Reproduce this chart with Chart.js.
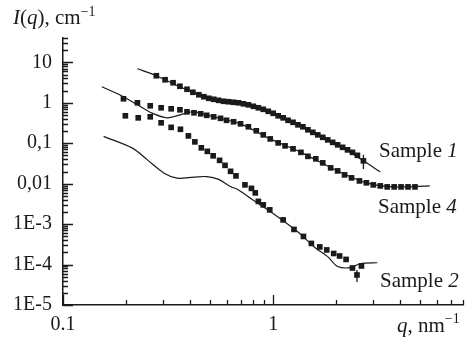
<!DOCTYPE html>
<html>
<head>
<meta charset="utf-8">
<script src="https://cdn.jsdelivr.net/npm/chart.js@4.4.1/dist/chart.umd.min.js"></script>
<style>
  body { margin: 0; background: #fff; }
  #wrap { width: 467px; height: 337px; }
</style>
</head>
<body>
<div id="wrap"><canvas id="sansChart" width="467" height="337"></canvas></div>
<script>
// tick labels
const xTickValues = [0.1, 1];
const xTickLabels = ['0.1', '1'];
const yTickValues = [1e-5, 1e-4, 1e-3, 0.01, 0.1, 1, 10];
const yTickLabels = ['1E-5', '1E-4', '1E-3', '0,01', '0,1', '1', '10'];

// Sample 1 - measured points and fit
const s1Q = [0.278, 0.306, 0.334, 0.360, 0.389, 0.415, 0.443, 0.468, 0.494, 0.521, 0.550, 0.581, 0.613, 0.648, 0.684, 0.722, 0.762, 0.805, 0.850, 0.897, 0.947, 1.0, 1.056, 1.115, 1.177, 1.243, 1.312, 1.385, 1.463, 1.544, 1.630, 1.721, 1.817, 1.919, 2.026, 2.139, 2.258, 2.384, 2.517, 2.687];
const s1I = [4.66, 3.71, 3.13, 2.56, 2.16, 1.82, 1.58, 1.41, 1.29, 1.22, 1.15, 1.09, 1.06, 1.03, 1.0, 0.944, 0.892, 0.819, 0.752, 0.690, 0.616, 0.550, 0.477, 0.425, 0.369, 0.329, 0.285, 0.255, 0.215, 0.186, 0.161, 0.140, 0.121, 0.105, 0.0913, 0.0792, 0.0686, 0.0595, 0.0502, 0.0367];
const s1LineQ = [0.226, 0.278, 0.360, 0.443, 0.613, 0.805, 1.056, 1.463, 2.026, 2.687, 3.23];
const s1LineI = [6.94, 4.66, 2.49, 1.58, 1.06, 0.819, 0.477, 0.215, 0.0913, 0.0367, 0.0196];

// Sample 4
const s4Q = [0.194, 0.226, 0.260, 0.293, 0.327, 0.360, 0.389, 0.420, 0.452, 0.483, 0.521, 0.562, 0.600, 0.648, 0.699, 0.762, 0.831, 0.897, 0.968, 1.056, 1.139, 1.243, 1.355, 1.463, 1.595, 1.721, 1.877, 2.026, 2.186, 2.359, 2.573, 2.776, 2.995, 3.232, 3.487, 3.763, 4.059, 4.380, 4.727];
const s4I = [1.256, 1.0, 0.843, 0.752, 0.710, 0.671, 0.599, 0.566, 0.534, 0.490, 0.450, 0.413, 0.369, 0.339, 0.302, 0.255, 0.203, 0.161, 0.128, 0.102, 0.0862, 0.0727, 0.0595, 0.0474, 0.0411, 0.0327, 0.0246, 0.0207, 0.0165, 0.0139, 0.0117, 0.0105, 0.00934, 0.00882, 0.00833, 0.00833, 0.00833, 0.00833, 0.00833];
const s4LineQ = [0.153, 0.186, 0.226, 0.263, 0.313, 0.376, 0.420, 0.521, 0.699, 0.968, 1.355, 2.026, 2.776, 3.763, 5.56];
const s4LineI = [2.49, 1.58, 0.892, 0.566, 0.425, 0.534, 0.599, 0.450, 0.302, 0.128, 0.0595, 0.0207, 0.0105, 0.00833, 0.00882];

// Sample 2
const s2Q = [0.198, 0.228, 0.260, 0.293, 0.327, 0.362, 0.395, 0.424, 0.455, 0.486, 0.518, 0.556, 0.590, 0.627, 0.665, 0.734, 0.788, 0.822, 0.850, 0.897, 0.963, 1.115, 1.256, 1.393, 1.519, 1.666, 1.798, 1.940, 2.070, 2.222, 2.384, 2.504, 2.630];
const s2I = [0.477, 0.425, 0.450, 0.320, 0.247, 0.221, 0.152, 0.108, 0.0769, 0.0630, 0.0488, 0.0377, 0.0284, 0.0202, 0.0156, 0.00934, 0.00765, 0.00592, 0.00365, 0.00299, 0.00225, 0.00127, 0.000739, 0.000496, 0.000333, 0.000273, 0.000230, 0.000188, 0.000163, 0.000134, 0.0000823, 0.0000553, 0.0000923];
const s2LineQ = [0.156, 0.214, 0.252, 0.303, 0.349, 0.420, 0.483, 0.550, 0.627, 0.684, 0.822, 1.022, 1.312, 1.578, 1.817, 2.026, 2.333, 2.601, 3.128];
const s2LineI = [0.148, 0.0756, 0.0388, 0.0182, 0.0137, 0.0145, 0.0150, 0.0128, 0.00848, 0.00702, 0.00360, 0.00169, 0.000641, 0.000265, 0.000157, 0.0000897, 0.0000838, 0.000106, 0.000111];

// error bars at the last points
const errQ = [2.687, 2.504];
const errLo = [0.0229, 0.0000371];
const errHi = [0.0516, 0.0000735];

const serif = '"Liberation Serif", "DejaVu Serif", serif';
const ink = '#1a1a1a';

function pts(qs, is) {
    return qs.map((q, i) => ({ x: q, y: is[i] }));
}

function lineSet(qs, is) {
    return {
        data: pts(qs, is),
        showLine: true,
        borderColor: ink,
        borderWidth: 1.2,
        pointRadius: 0,
        tension: 0.3
    };
}

function pointSet(qs, is) {
    return {
        data: pts(qs, is),
        showLine: false,
        pointStyle: 'rect',
        pointRadius: 4,
        backgroundColor: ink,
        borderWidth: 0
    };
}

// draws a row of text pieces (normal / italic / superscript)
function drawRuns(ctx, x, y, runs) {
    runs.forEach(r => {
        ctx.font = (r.italic ? 'italic ' : '') + (r.size || 21) + 'px ' + serif;
        ctx.fillText(r.t, x, y - (r.dy || 0));
        x += ctx.measureText(r.t).width;
    });
}

const decorPlugin = {
    id: 'decor',
    afterDraw(chart) {
        const { ctx, chartArea } = chart;
        const xs = chart.scales.x, ys = chart.scales.y;
        ctx.save();
        ctx.strokeStyle = ink;
        ctx.lineWidth = 1.3;
        ctx.beginPath();
        // y ticks, inside
        for (let d = -5; d <= 1; d++) {
            for (let m = 1; m <= 9; m++) {
                const v = m * Math.pow(10, d);
                if (v > ys.max) break;
                const p = Math.round(ys.getPixelForValue(v)) + 0.5;
                ctx.moveTo(chartArea.left, p);
                ctx.lineTo(chartArea.left + (m === 1 ? 10 : 5), p);
            }
        }
        // x ticks, inside
        for (let d = -1; d <= 0; d++) {
            for (let m = 1; m <= 9; m++) {
                const v = m * Math.pow(10, d);
                if (v > xs.max) break;
                const p = Math.round(xs.getPixelForValue(v)) + 0.5;
                ctx.moveTo(p, chartArea.bottom);
                ctx.lineTo(p, chartArea.bottom - (m === 1 ? 10 : 5));
            }
        }
        // error bars
        errQ.forEach((q, i) => {
            const px = xs.getPixelForValue(q);
            ctx.moveTo(px, ys.getPixelForValue(errHi[i]));
            ctx.lineTo(px, ys.getPixelForValue(errLo[i]));
        });
        ctx.stroke();

        ctx.fillStyle = ink;
        ctx.textAlign = 'left';
        ctx.textBaseline = 'alphabetic';
        drawRuns(ctx, 13, 24, [
            { t: 'I', italic: true }, { t: '(' }, { t: 'q', italic: true }, { t: '), cm' },
            { t: '\u22121', size: 14, dy: 8 }
        ]);
        drawRuns(ctx, 397, 332, [
            { t: 'q', italic: true }, { t: ', nm' }, { t: '\u22121', size: 14, dy: 9 }
        ]);
        drawRuns(ctx, 379, 157, [{ t: 'Sample ' }, { t: '1', italic: true }]);
        drawRuns(ctx, 378, 213, [{ t: 'Sample ' }, { t: '4', italic: true }]);
        drawRuns(ctx, 380, 287, [{ t: 'Sample ' }, { t: '2', italic: true }]);
        ctx.restore();
    }
};

new Chart(document.getElementById('sansChart'), {
    type: 'scatter',
    data: {
        datasets: [
            pointSet(s1Q, s1I),
            pointSet(s4Q, s4I),
            pointSet(s2Q, s2I),
            lineSet(s1LineQ, s1LineI),
            lineSet(s4LineQ, s4LineI),
            lineSet(s2LineQ, s2LineI)
        ]
    },
    options: {
        responsive: false,
        animation: false,
        layout: { padding: { top: 38, right: 0, left: 0, bottom: 0 } },
        plugins: {
            legend: { display: false },
            tooltip: { enabled: false }
        },
        scales: {
            x: {
                type: 'logarithmic',
                min: 0.1,
                max: 8,
                afterBuildTicks: s => { s.ticks = xTickValues.map(v => ({ value: v })); },
                afterFit: s => { s.height = 32; },
                grid: { display: false, drawTicks: false },
                border: { display: true, color: ink, width: 1.5 },
                ticks: {
                    autoSkip: false,
                    maxRotation: 0,
                    padding: 8,
                    color: ink,
                    font: { family: serif, size: 20 },
                    callback: (v, i) => xTickLabels[i]
                }
            },
            y: {
                type: 'logarithmic',
                min: 1e-5,
                max: 40,
                afterBuildTicks: s => { s.ticks = yTickValues.map(v => ({ value: v })); },
                afterFit: s => { s.width = 63; },
                grid: { display: false, drawTicks: false },
                border: { display: true, color: ink, width: 1.5 },
                ticks: {
                    autoSkip: false,
                    padding: 11,
                    color: ink,
                    font: { family: serif, size: 20 },
                    callback: (v, i) => yTickLabels[i]
                }
            }
        }
    },
    plugins: [decorPlugin]
});
</script>
</body>
</html>
